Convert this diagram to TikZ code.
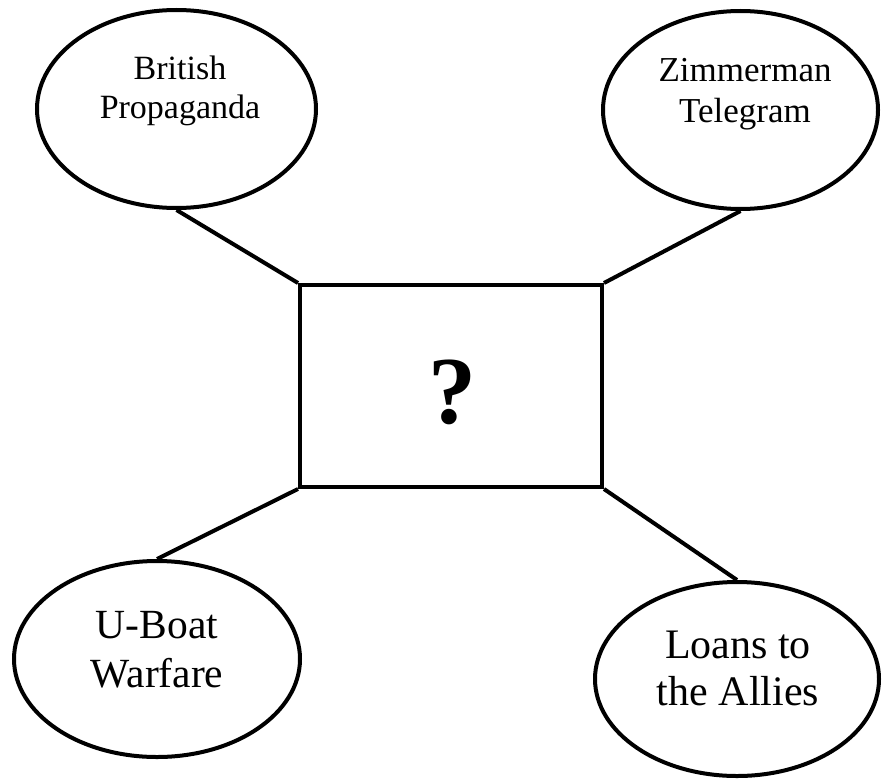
\documentclass[tikz,border=0pt]{standalone}
\usepackage{fontspec}
\setmainfont{Liberation Serif}
\usetikzlibrary{shapes.geometric}
\tikzset{
  bubble/.style={draw=black, line width=4pt, ellipse, inner sep=0pt},
  centerbox/.style={draw=black, line width=4pt, rectangle, inner sep=0pt, minimum width=302pt, minimum height=202pt},
  link/.style={draw=black, line width=4pt},
  lbl/.style={align=center, inner sep=0pt, anchor=base}
}
\begin{document}
\begin{tikzpicture}[x=1pt,y=1pt]
\useasboundingbox (0,0) rectangle (882,-781);
% ellipses
\node[bubble, minimum width=279pt, minimum height=198pt] (bp) at (176.5,-109) {};
\node[bubble, minimum width=275pt, minimum height=198pt] (zt) at (740.5,-110) {};
\node[bubble, minimum width=286pt, minimum height=196pt] (ub) at (157,-659) {};
\node[bubble, minimum width=284pt, minimum height=194pt] (la) at (737,-679) {};
% centre box
\node[centerbox] (q) at (451,-386) {};
\node[inner sep=0pt, anchor=base, font=\fontsize{96}{100}\selectfont\bfseries] (qm) at (452,-423) {?};
% labels (base anchor = baseline of last line)
\node[lbl, font=\fontsize{34}{39}\selectfont] (tbp) at (180,-118) {British\\Propaganda};
\node[lbl, font=\fontsize{35}{40}\selectfont] (tzt) at (745,-122) {Zimmerman\\Telegram};
\node[lbl, font=\fontsize{41.5}{49}\selectfont] (tub) at (157,-687) {U-Boat\\Warfare};
\node[lbl, font=\fontsize{42}{47}\selectfont] (tla) at (738,-705) {Loans to\\the Allies};
% connectors
\draw[link] (bp.south) -- (q.north west);
\draw[link] (zt.south) -- (q.north east);
\draw[link] (ub.north) -- (q.south west);
\draw[link] (la.north) -- (q.south east);
\end{tikzpicture}
\end{document}
